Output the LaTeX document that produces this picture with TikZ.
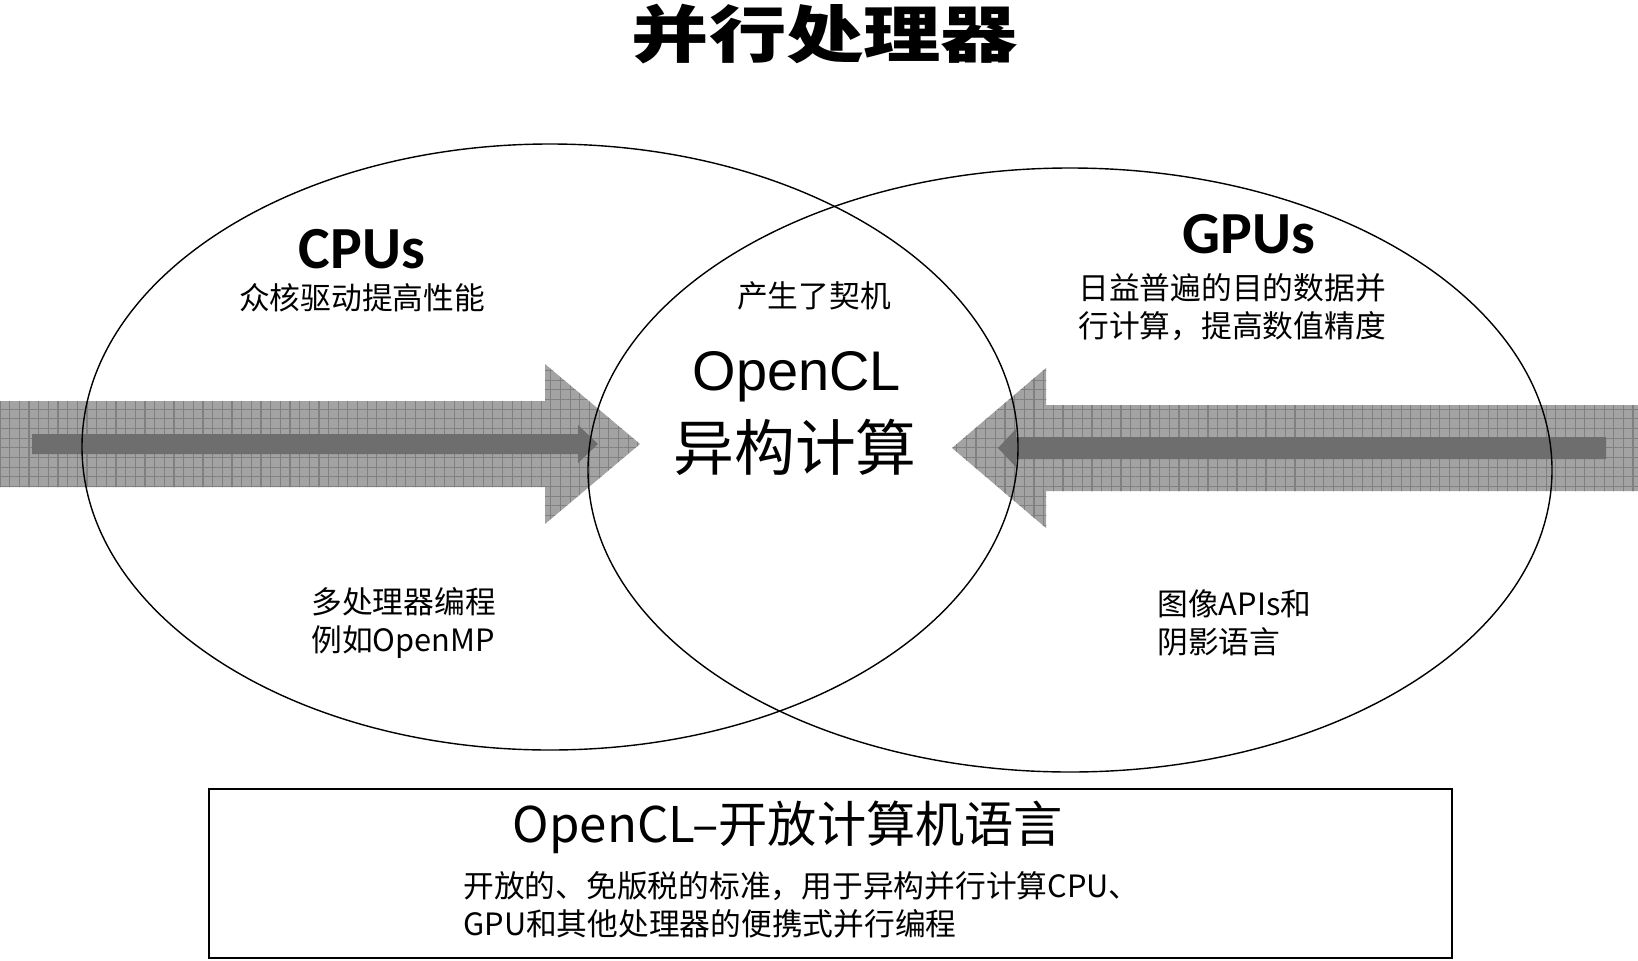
\documentclass[tikz,border=0pt]{standalone}
\usepackage{fontspec}
\usepackage{graphicx}
\setmainfont{Noto Sans CJK SC}
\newfontfamily\latinfont{Liberation Sans}
\newfontfamily\labelfont{Carlito}
\usetikzlibrary{patterns.meta}
\definecolor{arrowgray}{gray}{0.64}
\definecolor{gridgray}{gray}{0.50}
\definecolor{shaftgray}{gray}{0.43}

\begin{document}
\begin{tikzpicture}[x=0.02cm,y=-0.02cm,
		venn/.style={draw=black,line width=0.8pt},
		bigarrow/.style={fill=arrowgray,postaction={pattern color=gridgray,pattern={Hatch[distance=5.5pt,angle=0,line width=0.7pt]}}},
		shaft/.style={fill=shaftgray},
		small/.style={font=\fontsize{17.5}{21.5}\selectfont,inner sep=0pt,align=left}]
		
		\useasboundingbox (0,0) rectangle (1638,960);
		
		% Title
		\node[font=\fontsize{44}{50}\selectfont\bfseries,inner sep=0pt] (title) at (825,34) {\scalebox{1}[0.8]{并行处理器}};
		
		% Textured arrows (drawn below the circles)
		\fill[bigarrow] (0,401) -- (545,401) -- (545,364) -- (640,444) -- (545,524) -- (545,487) -- (0,487) -- cycle;
		\fill[shaft] (32,434) -- (578,434) -- (578,425) -- (598,444) -- (578,463) -- (578,454) -- (32,454) -- cycle;
		
		\fill[bigarrow] (1638,405) -- (1046,405) -- (1046,368) -- (952,448) -- (1046,528) -- (1046,491) -- (1638,491) -- cycle;
		\fill[shaft] (1606,437) -- (1016,437) -- (1016,429) -- (998,448) -- (1016,467) -- (1016,459) -- (1606,459) -- cycle;
		
		% CPU and GPU circles
		\draw[venn] (550,447) ellipse [x radius=468,y radius=303];
		\draw[venn] (1070,470) ellipse [x radius=482,y radius=302];
		
		% CPU side
		\node[font=\fontsize{34}{38}\selectfont\labelfont\bfseries,inner sep=0pt] (cpu) at (362,249) {CPUs};
		\node[small] (cpudesc) at (362,298) {众核驱动提高性能};
		\node[small,anchor=west] (cpuprog) at (311,623) {多处理器编程\\例如OpenMP};
		
		% GPU side
		\node[font=\fontsize{34}{38}\selectfont\labelfont\bfseries,inner sep=0pt] (gpu) at (1249,234) {GPUs};
		\node[small,anchor=west] (gpudesc) at (1078,307) {日益普遍的目的数据并\\行计算，提高数值精度};
		\node[small,anchor=west] (gpuprog) at (1157,623) {图像APIs和\\阴影语言};
		
		% Overlap
		\node[small] (chance) at (814,296) {产生了契机};
		\node[font=\fontsize{31.8}{36}\selectfont\latinfont,inner sep=0pt] (opencl) at (797,377) {OpenCL};
		\node[font=\fontsize{34.6}{40}\selectfont,inner sep=0pt] (hetero) at (795,447) {异构计算};
		
		% Bottom box
		\draw[line width=1pt] (209,789) rectangle (1452,958);
		\node[font=\fontsize{28}{32}\selectfont,inner sep=0pt] (boxtitle) at (788,827) {OpenCL–开放计算机语言};
		\node[small,anchor=west] (boxbody) at (463,905) {开放的、免版税的标准，用于异构并行计算CPU、\\GPU和其他处理器的便携式并行编程};
		
	\end{tikzpicture}
\end{document}
